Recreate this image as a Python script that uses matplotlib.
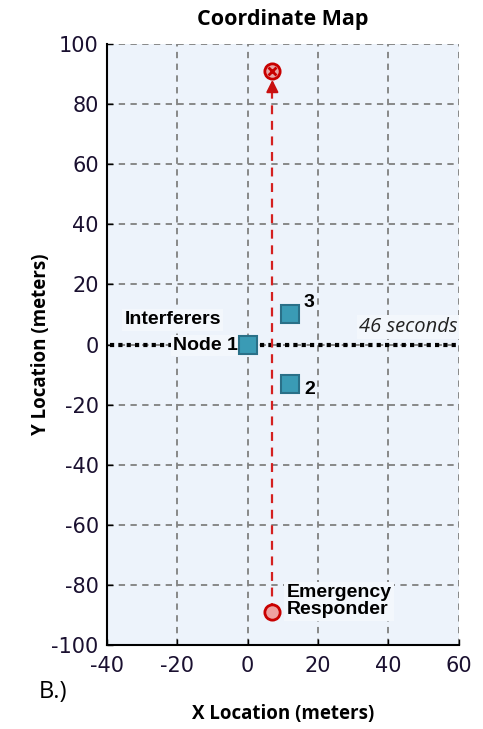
import numpy as np
import matplotlib.pyplot as plt

plt.rcParams['axes.unicode_minus'] = False

# interferer nodes (meters)
node_x = [0, 12, 12]
node_y = [0, 10, -13]
node_labels = ['Node 1', '3', '2']

# emergency responder path
resp_start = (7, -89)
resp_end = (7, 91)
arrow_tip = 89

time_y = 0
time_label = '46 seconds'

xticks = [-40, -20, 0, 20, 40, 60]
yticks = list(range(-100, 101, 20))

fig = plt.figure(figsize=(4.83, 7.29), dpi=100)
ax = fig.add_axes([0.2215, 0.1152, 0.7285, 0.8244])
ax.set_facecolor('#edf3fb')
ax.set_xlim(-40, 60)
ax.set_ylim(-100, 100)
ax.set_xticks(xticks)
ax.set_yticks(yticks)
ax.tick_params(direction='in', length=4, width=1, labelsize=15, labelcolor='#1a1030')
ax.tick_params(axis='x', pad=8)
ax.tick_params(axis='y', pad=6)
ax.grid(True, color='#808080', linestyle=(0, (3.5, 3)), linewidth=1.3)
ax.spines['top'].set_visible(False)
ax.spines['right'].set_visible(False)
ax.spines['left'].set_linewidth(1.5)
ax.spines['bottom'].set_linewidth(1.5)

# timeline dotted line
ax.plot([-39.2, 60], [time_y, time_y], color='black', linestyle=(0, (1, 1)), linewidth=3, zorder=3)

# responder path
ax.plot([resp_start[0], resp_end[0]], [resp_start[1], arrow_tip - 4], color='#d42020',
        linestyle=(0, (4, 3)), linewidth=1.6, zorder=4)
ax.annotate('', xy=(resp_start[0], arrow_tip), xytext=(resp_start[0], arrow_tip - 5),
            arrowprops=dict(arrowstyle='-|>', color='#c81010', lw=1.5, mutation_scale=18), zorder=5)
ax.plot(resp_end[0], resp_end[1], marker='o', markersize=11, markerfacecolor='#e8a6a6',
        markeredgecolor='#c80000', markeredgewidth=2, zorder=6)
ax.plot(resp_end[0], resp_end[1], marker='x', markersize=6, markeredgecolor='#c80000',
        markeredgewidth=2, zorder=7)
ax.plot(resp_start[0], resp_start[1], marker='o', markersize=11, markerfacecolor='#eea0a0',
        markeredgecolor='#c80000', markeredgewidth=2, zorder=6)

# nodes
ax.plot(node_x, node_y, linestyle='none', marker='s', markersize=13.5,
        markerfacecolor='#3a9bb5', markeredgecolor='#2a7088', markeredgewidth=1.5, zorder=6)

box = dict(facecolor='#f3f7fc', edgecolor='none', pad=1.5)
ax.text(node_x[0] - 2.8, node_y[0] - 0.3, node_labels[0], ha='right', va='center',
        fontsize=14, fontweight='bold', family='Liberation Sans', bbox=box, zorder=5)
ax.text(-21.3, 8.2, 'Interferers', ha='center', va='center', fontsize=14,
        fontweight='bold', family='Liberation Sans', bbox=box, zorder=5)
ax.text(node_x[1] + 5.5, node_y[1] + 4, node_labels[1], ha='center', va='center',
        fontsize=14, fontweight='bold', family='Liberation Sans', zorder=5)
ax.text(node_x[2] + 5.5, node_y[2] - 2, node_labels[2], ha='center', va='center',
        fontsize=14, fontweight='bold', family='Liberation Sans', zorder=5)
ax.text(59.5, 5.8, time_label, ha='right', va='center', fontsize=14.5, style='italic',
        family='Open Sans', color='#222222', bbox=box, zorder=5)
ax.text(resp_start[0] + 4, -85.5, 'Emergency\nResponder', ha='left', va='center',
        fontsize=14, fontweight='bold', family='Liberation Sans', linespacing=1.0,
        bbox=box, zorder=5)

ax.set_title('Coordinate Map', fontsize=15.5, fontweight='bold', family='Open Sans', pad=14)
ax.set_xlabel('X Location (meters)', fontsize=13.5, fontweight='bold', family='Open Sans', labelpad=20)
ax.set_ylabel('Y Location (meters)', fontsize=13.5, fontweight='bold', family='Open Sans', labelpad=0)
fig.text(0.08, 0.043, 'B.)', fontsize=17, family='Open Sans')

fig.savefig('out.png', dpi=100)
